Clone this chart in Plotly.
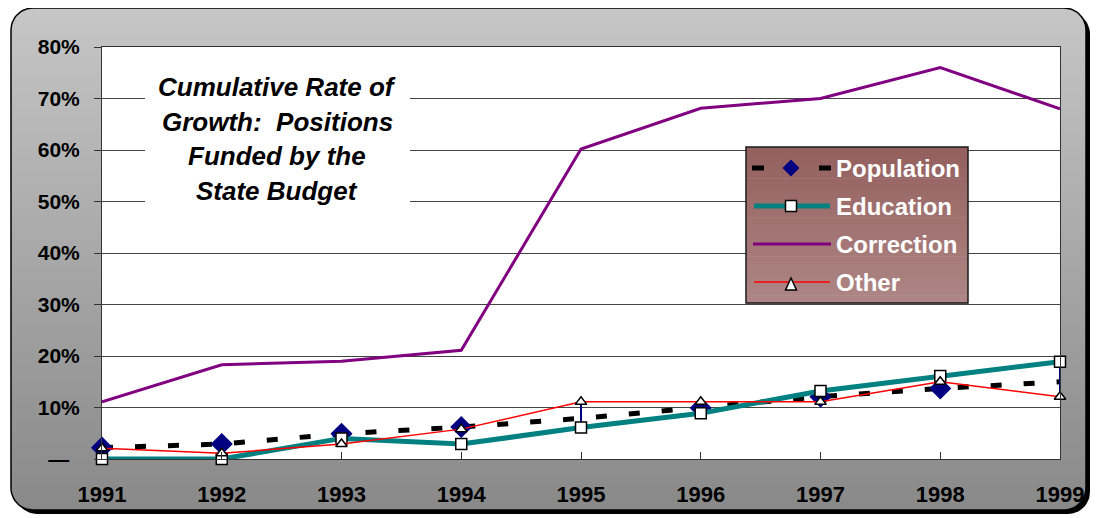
import numpy as np
import plotly.graph_objects as go

# ---------------- data ----------------
years = [1991, 1992, 1993, 1994, 1995, 1996, 1997, 1998, 1999]
year_labels = ["1991", "1992", "1993", "1994", "1995", "1996", "1997", "1998", "1999"]
population = [2.2, 2.9, 4.9, 6.2, 7.9, 9.9, 12.1, 13.7, 15.0]
population_marker_shown = [1, 1, 1, 1, 0, 1, 1, 1, 0]
education = [0.0, 0.0, 4.0, 2.9, 6.1, 8.9, 13.2, 16.1, 18.9]
correction = [11.1, 18.3, 19.0, 21.1, 60.2, 68.1, 70.0, 76.0, 68.0]
other = [2.1, 1.1, 2.9, 5.8, 11.1, 11.1, 11.1, 15.0, 12.1]
drop_line_years = [1995, 1999]
series_names = ["Population", "Education", "Correction", "Other"]
y_ticks = [0, 10, 20, 30, 40, 50, 60, 70, 80]
y_labels = ["\u2014\u2002", "10%", "20%", "30%", "40%", "50%", "60%", "70%", "80%"]
title_lines = ["Cumulative Rate of", "Growth:  Positions", "Funded by the", "State Budget"]

# ---------------- layout constants (page pixels) ----------------
W, H = 1099, 518
OFF = 8  # page body margin: figure starts at (8, 8) on the page
PL, PR, PT, PB = 102, 1060, 47, 459
FONT = "Liberation Sans, Arial, sans-serif"

NAVY = "#000080"
TEAL = "#008080"
PURPLE = "#800080"
RED = "#ff0000"


def rrect(x0, y0, x1, y1, r, n=14):
    xs, ys = [], []
    corners = [(x1 - r, y0 + r, -90, 0), (x1 - r, y1 - r, 0, 90),
               (x0 + r, y1 - r, 90, 180), (x0 + r, y0 + r, 180, 270)]
    for cx, cy, a0, a1 in corners:
        for a in np.linspace(np.radians(a0), np.radians(a1), n):
            xs.append(cx + r * np.cos(a))
            ys.append(cy + r * np.sin(a))
    xs.append(xs[0]); ys.append(ys[0])
    return xs, ys


fig = go.Figure()

# background frame (pixel subplot x/y, in page coordinates)
sx, sy = rrect(15, 12, 1090, 514, 22)
fig.add_trace(go.Scatter(x=sx, y=sy, mode="lines", fill="toself", fillcolor="black",
                         line=dict(width=0, color="black"), hoverinfo="skip",
                         showlegend=False, xaxis="x", yaxis="y"))
bx, by = rrect(11, 8, 1086, 510, 22)
fig.add_trace(go.Scatter(x=bx, y=by, mode="lines", fill="toself",
                         fillgradient=dict(type="vertical",
                                           colorscale=[[0, "#c6c6c6"], [1, "#898989"]],
                                           start=8, stop=510),
                         line=dict(width=1.5, color="black"), hoverinfo="skip",
                         showlegend=False, xaxis="x", yaxis="y"))

# ---------------- data traces ----------------
pop_sizes = [17 if s else 0 for s in population_marker_shown]
fig.add_trace(go.Scatter(x=years, y=population, name=series_names[0], mode="lines+markers",
                         line=dict(color="black", width=5, dash="11px,22px"),
                         marker=dict(symbol="diamond", size=pop_sizes, color=NAVY,
                                     opacity=1, line=dict(width=0)),
                         cliponaxis=False, showlegend=False, xaxis="x2", yaxis="y2"))

dx, dy = [], []
for yr in drop_line_years:
    i = years.index(yr)
    dx += [yr, yr, None]
    dy += [other[i], education[i], None]
fig.add_trace(go.Scatter(x=dx, y=dy, mode="lines", line=dict(color=NAVY, width=2),
                         hoverinfo="skip", showlegend=False, xaxis="x2", yaxis="y2"))

fig.add_trace(go.Scatter(x=years, y=education, name=series_names[1], mode="lines+markers",
                         line=dict(color=TEAL, width=5),
                         marker=dict(symbol="square", size=11, color="white", opacity=1,
                                     line=dict(width=1.5, color="black")),
                         cliponaxis=False, showlegend=False, xaxis="x2", yaxis="y2"))
fig.add_trace(go.Scatter(x=years, y=correction, name=series_names[2], mode="lines",
                         line=dict(color=PURPLE, width=3),
                         cliponaxis=False, showlegend=False, xaxis="x2", yaxis="y2"))
fig.add_trace(go.Scatter(x=years, y=other, name=series_names[3], mode="lines+markers",
                         line=dict(color=RED, width=1.5),
                         marker=dict(symbol="triangle-up", size=10, color="white", opacity=1,
                                     line=dict(width=1.5, color="black")),
                         cliponaxis=False, showlegend=False, xaxis="x2", yaxis="y2"))

# ---------------- decorations: title box & legend (page pixel coords) ----------------
shapes = []
annotations = []

# title white box
shapes.append(dict(type="rect", xref="x", yref="y", x0=145, x1=410, y0=64, y1=212,
                   fillcolor="white", line=dict(width=0), layer="above"))
for k, line in enumerate(title_lines):
    annotations.append(dict(xref="x", yref="y", x=277, y=87 + k * 34.5, text=line,
                            showarrow=False, xanchor="center", yanchor="middle",
                            font=dict(family=FONT, size=26, color="black",
                                      weight="bold", style="italic")))

# legend box with gradient bands
LX0, LX1, LY0, LY1 = 746, 968, 147, 303
nb = 40
c_top = np.array([0x94, 0x61, 0x5f])
c_bot = np.array([0xae, 0x86, 0x85])
for b in range(nb):
    t = b / (nb - 1)
    c = (c_top * (1 - t) + c_bot * t).astype(int)
    y0 = LY0 + (LY1 - LY0) * b / nb
    y1 = LY0 + (LY1 - LY0) * (b + 1) / nb + 0.6
    shapes.append(dict(type="rect", xref="x", yref="y", x0=LX0, x1=LX1, y0=y0, y1=y1,
                       fillcolor="rgb(%d,%d,%d)" % tuple(c), line=dict(width=0), layer="above"))
shapes.append(dict(type="rect", xref="x", yref="y", x0=LX0, x1=LX1, y0=LY0, y1=LY1,
                   fillcolor="rgba(0,0,0,0)", line=dict(width=1.5, color="#1a1a1a"),
                   layer="above"))

rows = [168, 206, 244, 282]
SX0, SX1, SC = 752, 832, 791
# Population: dashes + diamond
r = rows[0]
shapes.append(dict(type="line", xref="x", yref="y", x0=752, x1=764, y0=r, y1=r,
                   line=dict(color="black", width=5), layer="above"))
shapes.append(dict(type="line", xref="x", yref="y", x0=819, x1=831, y0=r, y1=r,
                   line=dict(color="black", width=5), layer="above"))
shapes.append(dict(type="path", xref="x", yref="y",
                   path="M %g,%g L %g,%g L %g,%g L %g,%g Z" % (SC, r - 8.5, SC + 8.5, r, SC, r + 8.5, SC - 8.5, r),
                   fillcolor=NAVY, line=dict(width=0), layer="above"))
# Education
r = rows[1]
shapes.append(dict(type="line", xref="x", yref="y", x0=SX0 + 2, x1=SX1 - 2, y0=r, y1=r,
                   line=dict(color=TEAL, width=5), layer="above"))
shapes.append(dict(type="rect", xref="x", yref="y", x0=SC - 5.5, x1=SC + 5.5, y0=r - 5.5, y1=r + 5.5,
                   fillcolor="white", line=dict(color="black", width=1.5), layer="above"))
# Correction
r = rows[2]
shapes.append(dict(type="line", xref="x", yref="y", x0=SX0 + 1, x1=SX1 - 1, y0=r, y1=r,
                   line=dict(color=PURPLE, width=3), layer="above"))
# Other
r = rows[3]
shapes.append(dict(type="line", xref="x", yref="y", x0=SX0 + 2, x1=SX1 - 2, y0=r, y1=r,
                   line=dict(color=RED, width=1.5), layer="above"))
shapes.append(dict(type="path", xref="x", yref="y",
                   path="M %g,%g L %g,%g L %g,%g Z" % (SC, r - 4, SC + 5.5, r + 8, SC - 5.5, r + 8),
                   fillcolor="white", line=dict(color="black", width=1.5), layer="above"))

for name, r in zip(series_names, rows):
    annotations.append(dict(xref="x", yref="y", x=834, y=r, text=name, showarrow=False,
                            xanchor="left", yanchor="middle",
                            font=dict(family=FONT, size=24, color="white", weight="bold")))

# ---------------- layout ----------------
fig.update_layout(
    template="none",
    width=W, height=H, autosize=False,
    margin=dict(l=0, r=0, t=0, b=0, pad=0),
    paper_bgcolor="white",
    plot_bgcolor="white",
    showlegend=False,
    xaxis=dict(domain=[0, 1], range=[OFF, W + OFF], visible=False, fixedrange=True,
               automargin=False),
    yaxis=dict(domain=[0, 1], range=[H + OFF, OFF], visible=False, fixedrange=True,
               automargin=False),
    xaxis2=dict(domain=[(PL - OFF) / W, (PR - OFF) / W], range=[years[0], years[-1]],
                anchor="y2", automargin=False,
                tickvals=years, ticktext=year_labels, showgrid=False, zeroline=False,
                showline=True, mirror=True, linecolor="#333333", linewidth=1,
                ticks="inside", ticklen=7, tickcolor="#333333",
                ticklabelstandoff=16,
                tickfont=dict(family=FONT, size=22, color="black", weight="bold")),
    yaxis2=dict(domain=[(H - (PB - OFF)) / H, (H - (PT - OFF)) / H], range=[0, 80],
                anchor="x2", automargin=False,
                tickvals=y_ticks, ticktext=y_labels, showgrid=True, gridcolor="#444444",
                gridwidth=1, zeroline=False,
                showline=True, mirror=True, linecolor="#333333", linewidth=1,
                ticks="outside", ticklen=7, tickcolor="#333333",
                ticklabelstandoff=10,
                tickfont=dict(family=FONT, size=21, color="black", weight="bold")),
    shapes=shapes,
    annotations=annotations,
)

fig.write_html("out.html")
